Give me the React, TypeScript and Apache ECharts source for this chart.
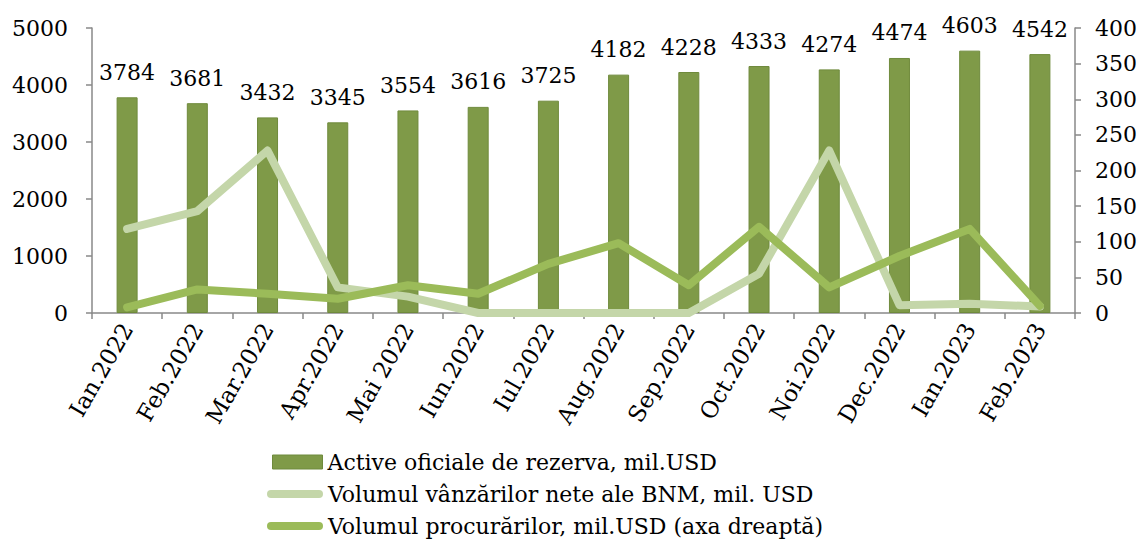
import React, { useEffect, useRef } from "react";
import * as echarts from "echarts";

const categories = [
  "Ian.2022", "Feb.2022", "Mar.2022", "Apr.2022", "Mai 2022", "Iun.2022", "Iul.2022",
  "Aug.2022", "Sep.2022", "Oct.2022", "Noi.2022", "Dec.2022", "Ian.2023", "Feb.2023",
];
const activeRezerva = [3784, 3681, 3432, 3345, 3554, 3616, 3725, 4182, 4228, 4333, 4274, 4474, 4603, 4542];
const vanzariNete = [118, 143, 228, 36, 23, 0, 0, 0, 0, 55, 228, 11, 13, 9];
const procurari = [8, 33, 27, 20, 39, 27, 69, 98, 39, 121, 36, 80, 118, 10];

const nameBars = "Active oficiale de rezerva, mil.USD";
const nameSales = "Volumul vânzărilor nete ale BNM, mil. USD";
const nameBuys = "Volumul procurărilor, mil.USD (axa dreaptă)";

const FONT = "DejaVu Serif";
const axisColor = "#898989";
const barColor = "#7f9a48";
const barBorder = "#6f8a3c";
const lightColor = "#c4d6a9";
const darkColor = "#9bbb59";
const capsule = "path://M4,0 H52 A4,4 0 0 1 52,8 H4 A4,4 0 0 1 4,0 Z";

function legendFor(name: string, top: number, icon: string, w: number, h: number, left: number, itemStyle: any) {
  return {
    orient: "vertical",
    left,
    top,
    padding: 0,
    itemWidth: w,
    itemHeight: h,
    itemGap: 0,
    textStyle: { fontFamily: FONT, fontSize: 22, color: "#000", lineHeight: 26 },
    data: [{ name, icon, itemStyle }],
  };
}

export default function App() {
  const ref = useRef<HTMLDivElement>(null);
  useEffect(() => {
    if (!ref.current) return;
    const chart = echarts.init(ref.current, undefined, { renderer: "svg" });
    chart.setOption({
      animation: false,
      textStyle: { fontFamily: FONT, color: "#000" },
      grid: { left: 92, right: 69, top: 28, bottom: 226, containLabel: false },
      legend: [
        legendFor(nameBars, 449, "rect", 50, 14, 272, { color: barColor, borderColor: barBorder, borderWidth: 1 }),
        legendFor(nameSales, 481, capsule, 56, 8, 267, { color: lightColor, borderWidth: 0 }),
        legendFor(nameBuys, 513, capsule, 56, 8, 267, { color: darkColor, borderWidth: 0 }),
      ],
      xAxis: {
        type: "category",
        data: categories,
        boundaryGap: true,
        axisLine: { lineStyle: { color: axisColor, width: 1.5 } },
        axisTick: { show: true, alignWithLabel: false, length: 6, lineStyle: { color: axisColor, width: 1.5 } },
        axisLabel: { rotate: 60, fontSize: 23, fontFamily: FONT, color: "#000", margin: 12, interval: 0 },
        splitLine: { show: false },
      },
      yAxis: [
        {
          type: "value",
          min: 0,
          max: 5000,
          interval: 1000,
          axisLine: { show: true, lineStyle: { color: axisColor, width: 1.5 } },
          axisTick: { show: true, length: 6, lineStyle: { color: axisColor, width: 1.5 } },
          axisLabel: { fontSize: 22, fontFamily: FONT, color: "#000", margin: 24, formatter: (v: number) => String(v) },
          splitLine: { show: false },
        },
        {
          type: "value",
          min: 0,
          max: 400,
          interval: 50,
          position: "right",
          axisLine: { show: true, lineStyle: { color: axisColor, width: 1.5 } },
          axisTick: { show: true, length: 6, lineStyle: { color: axisColor, width: 1.5 } },
          axisLabel: { fontSize: 22, fontFamily: FONT, color: "#000", margin: 20, formatter: (v: number) => String(v) },
          splitLine: { show: false },
        },
      ],
      series: [
        {
          name: nameBars,
          type: "bar",
          yAxisIndex: 0,
          data: activeRezerva,
          barWidth: 21,
          itemStyle: { color: barColor, borderColor: barBorder, borderWidth: 1 },
          label: { show: true, position: "top", distance: 14, fontSize: 22, fontFamily: FONT, color: "#000" },
          z: 1,
        },
        {
          name: nameSales,
          type: "line",
          yAxisIndex: 1,
          data: vanzariNete,
          symbol: "none",
          lineStyle: { width: 8, color: lightColor, cap: "round", join: "round" },
          itemStyle: { color: lightColor },
          z: 3,
        },
        {
          name: nameBuys,
          type: "line",
          yAxisIndex: 1,
          data: procurari,
          symbol: "none",
          lineStyle: { width: 8, color: darkColor, cap: "round", join: "round" },
          itemStyle: { color: darkColor },
          z: 4,
        },
      ],
    });
    return () => chart.dispose();
  }, []);
  return <div ref={ref} style={{ width: 1144, height: 539, position: "absolute", left: 0, top: 0 }} />;
}
